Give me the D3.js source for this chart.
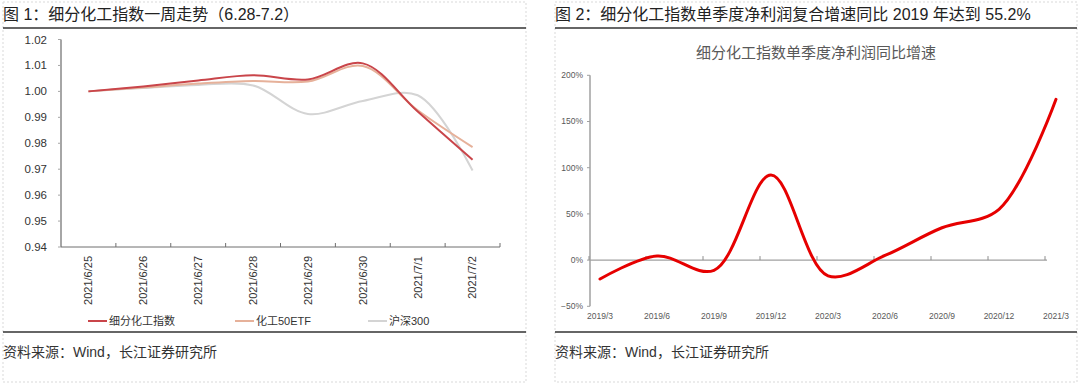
<html>
<head>
<meta charset="utf-8">
<script src="https://d3js.org/d3.v7.min.js"></script>
<style>
	body { margin:0; background:#fff; }
	text { font-family:"Liberation Sans","Noto Sans CJK SC",sans-serif; }
</style>
</head>
<body>
<svg id="chart" width="1080" height="385"></svg>
<script>
	// left chart: one week of index values
	var days = ['2021/6/25','2021/6/26','2021/6/27','2021/6/28','2021/6/29','2021/6/30','2021/7/1','2021/7/2'];
	var chemIndex = [1.000, 1.0019, 1.0042, 1.0062, 1.0046, 1.0108, 0.9922, 0.9736];
	var chemEtf = [1.000, 1.0015, 1.0030, 1.0040, 1.0038, 1.0098, 0.9927, 0.9785];
	var hs300 = [1.000, 1.0013, 1.0025, 1.0023, 0.9913, 0.9963, 0.9985, 0.9695];
	var leftTicks = [0.94, 0.95, 0.96, 0.97, 0.98, 0.99, 1.00, 1.01, 1.02];
	var leftSeries = [
		{name:'细分化工指数', values:chemIndex, color:'#c9454a'},
		{name:'化工50ETF', values:chemEtf, color:'#e6b19a'},
		{name:'沪深300', values:hs300, color:'#d4d4d4'}
	];

	// right chart: quarterly yoy growth
	var quarters = ['2019/3','2019/6','2019/9','2019/12','2020/3','2020/6','2020/9','2020/12','2021/3'];
	var growth = [-0.205, 0.045, -0.11, 0.92, -0.17, 0.05, 0.35, 0.55, 1.74];
	var rightTicks = [-0.5, 0, 0.5, 1, 1.5, 2];

	var svg = d3.select('#chart');
	var dark = '#333';

	// panel frames
	function frame(x0, x1){
		svg.append('rect').attr('x', x0).attr('y', 2).attr('width', x1 - x0).attr('height', 380)
			.attr('fill','none').attr('stroke','#d9d9d9').attr('stroke-dasharray','2,2');
		svg.append('line').attr('x1', x0).attr('x2', x1).attr('y1', 28).attr('y2', 28)
			.attr('stroke', dark).attr('stroke-width', 1.5);
		svg.append('line').attr('x1', x0).attr('x2', x1).attr('y1', 332).attr('y2', 332)
			.attr('stroke', dark).attr('stroke-width', 1.5);
		svg.append('text').attr('x', x0).attr('y', 357).attr('font-size', 14).attr('fill', dark)
			.text('资料来源：Wind，长江证券研究所');
	}
	frame(3, 526);
	frame(555, 1077);

	svg.append('text').attr('x', 3).attr('y', 20).attr('font-size', 16).attr('fill', '#222')
		.text('图 1：细分化工指数一周走势（6.28-7.2）');
	svg.append('text').attr('x', 555).attr('y', 20).attr('font-size', 16).attr('fill', '#222')
		.text('图 2：细分化工指数单季度净利润复合增速同比 2019 年达到 55.2%');

	// ---------- left chart ----------
	var x1 = d3.scaleBand().domain(days).range([61, 500]);
	var y1 = d3.scaleLinear().domain([0.94, 1.02]).range([247, 39.5]);

	var g1 = svg.append('g');
	g1.append('line').attr('x1', 61).attr('x2', 61).attr('y1', y1(1.02)).attr('y2', y1(0.94))
		.attr('stroke', '#a6a6a6').attr('stroke-width', 2);
	g1.selectAll('.ytick').data(leftTicks).enter().append('line')
		.attr('x1', 58).attr('x2', 61).attr('y1', d => y1(d)).attr('y2', d => y1(d))
		.attr('stroke', '#a6a6a6');
	g1.selectAll('.ylab').data(leftTicks).enter().append('text')
		.attr('x', 47).attr('y', d => y1(d)).attr('dy', '0.35em').attr('text-anchor', 'end')
		.attr('font-size', 11.5).attr('fill', dark)
		.text(d => d3.format('.2f')(d));

	g1.append('line').attr('x1', 61).attr('x2', 500).attr('y1', y1(0.94)).attr('y2', y1(0.94))
		.attr('stroke', '#6f6f6f');
	g1.selectAll('.xtick').data(days.slice(1)).enter().append('line')
		.attr('x1', d => x1(d)).attr('x2', d => x1(d))
		.attr('y1', y1(0.94) - 4).attr('y2', y1(0.94)).attr('stroke', '#6f6f6f');
	g1.append('line').attr('x1', 500).attr('x2', 500).attr('y1', y1(0.94) - 4).attr('y2', y1(0.94))
		.attr('stroke', '#6f6f6f');
	g1.selectAll('.xlab').data(days).enter().append('text')
		.attr('transform', d => 'translate(' + (x1(d) + x1.bandwidth() / 2) + ',256) rotate(-90)')
		.attr('dy', '0.35em').attr('text-anchor', 'end')
		.attr('font-size', 11).attr('fill', dark)
		.text(d => d);

	var line1 = d3.line()
		.x((d, i) => x1(days[i]) + x1.bandwidth() / 2)
		.y(d => y1(d))
		.curve(d3.curveCatmullRom);

	leftSeries.slice().reverse().forEach(function(s){
		g1.append('path').attr('d', line1(s.values)).attr('fill', 'none')
			.attr('stroke', s.color).attr('stroke-width', 2);
	});

	// legend
	var legX = [88, 235, 368];
	leftSeries.forEach(function(s, i){
		g1.append('line').attr('x1', legX[i]).attr('x2', legX[i] + 19).attr('y1', 321).attr('y2', 321)
			.attr('stroke', s.color).attr('stroke-width', 2);
		g1.append('text').attr('x', legX[i] + 21).attr('y', 321).attr('dy', '0.35em')
			.attr('font-size', 11).attr('fill', dark).text(s.name);
	});

	// ---------- right chart ----------
	var x2 = d3.scalePoint().domain(quarters).range([600, 1056]);
	var y2 = d3.scaleLinear().domain([-0.5, 2]).range([306.3, 75.3]);
	var g2 = svg.append('g');

	g2.append('text').attr('x', 816).attr('y', 58).attr('text-anchor', 'middle')
		.attr('font-size', 15).attr('fill', '#595959').text('细分化工指数单季度净利润同比增速');

	g2.append('line').attr('x1', 590).attr('x2', 590).attr('y1', y2(2)).attr('y2', y2(-0.5))
		.attr('stroke', '#a0a0a0').attr('stroke-width', 1.5);
	g2.selectAll('.ytick').data(rightTicks).enter().append('line')
		.attr('x1', 587).attr('x2', 590).attr('y1', d => y2(d)).attr('y2', d => y2(d))
		.attr('stroke', '#a0a0a0');
	g2.selectAll('.ylab').data(rightTicks).enter().append('text')
		.attr('x', 583).attr('y', d => y2(d)).attr('dy', '0.35em').attr('text-anchor', 'end')
		.attr('font-size', 8.5).attr('fill', '#595959')
		.text(d => d3.format('.0%')(d));

	g2.append('line').attr('x1', 590).attr('x2', 1047).attr('y1', y2(0)).attr('y2', y2(0))
		.attr('stroke', '#a0a0a0').attr('stroke-width', 1.2);
	g2.selectAll('.xtick').data(quarters).enter().append('line')
		.attr('x1', d => x2(d) - 11).attr('x2', d => x2(d) - 11)
		.attr('y1', y2(0) - 4).attr('y2', y2(0)).attr('stroke', '#8c8c8c');
	g2.selectAll('.xlab').data(quarters).enter().append('text')
		.attr('x', d => x2(d)).attr('y', 319).attr('text-anchor', 'middle')
		.attr('font-size', 8.5).attr('fill', '#595959')
		.text(d => d);

	var line2 = d3.line()
		.x((d, i) => x2(quarters[i]))
		.y(d => y2(d))
		.curve(d3.curveCatmullRom);
	g2.append('path').attr('d', line2(growth)).attr('fill', 'none')
		.attr('stroke', '#e60000').attr('stroke-width', 3).attr('stroke-linecap', 'round');
</script>
</body>
</html>
